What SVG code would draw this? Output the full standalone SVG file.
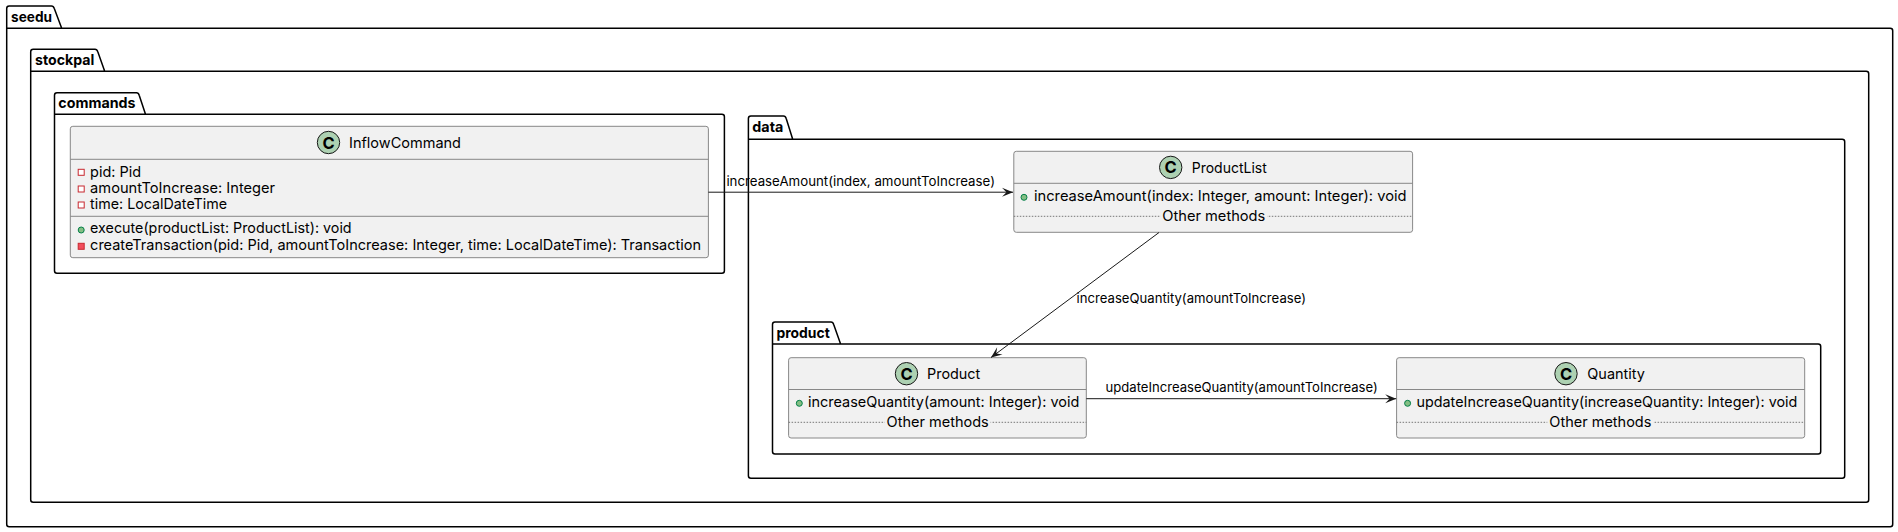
<svg xmlns="http://www.w3.org/2000/svg" width="1898" height="532" viewBox="0 0 1898 532">
<style>
text{font-family:"Inter","Liberation Sans",sans-serif;fill:#000;font-size:14.5px}
.pkgt{font-weight:700;font-size:14.5px}
.lbl{font-size:13px}
.pkg{fill:none;stroke:#000;stroke-width:1.5}
.box{fill:#F1F1F1;stroke:#888;stroke-width:1}
.sep{stroke:#888;stroke-width:1}
.dot{stroke:#777;stroke-width:1;stroke-dasharray:1.5 1.5}
.spot{fill:#ADD1B2;stroke:#181818;stroke-width:1}
.c{font-weight:700;font-size:16.5px;text-anchor:middle}
.pub{fill:#84BE84;stroke:#038048}
.pri{fill:#fff;stroke:#C82930}
.prim{fill:#F24D5C;stroke:#C82930}
.bg{fill:#F1F1F1;stroke:none}
.conn{fill:none;stroke:#181818;stroke-width:1}
</style>
<defs>
<marker id="arrow" markerUnits="userSpaceOnUse" markerWidth="12" markerHeight="12" refX="11" refY="6" orient="auto" overflow="visible">
<path d="M11 6L0 1.5L4.5 6L0 10.5Z" fill="#181818"/>
</marker>
</defs>
<g id="pkg-seedu">
<path class="pkg" d="M6.7 28.3V8.5Q6.7 6 9.2 6H51.5Q53.5 6 54.3 8.5L61.7 28.3H1890.2Q1892.7 28.3 1892.7 30.8V524.2Q1892.7 526.7 1890.2 526.7H9.2Q6.7 526.7 6.7 524.2V28.3H61.7"/>
<text class="pkgt" x="11" y="22" textLength="41" lengthAdjust="spacingAndGlyphs">seedu</text>
</g>
<g id="pkg-stockpal">
<path class="pkg" d="M30.7 71.3V51.8Q30.7 49.3 33.2 49.3H95Q97 49.3 97.8 51.8L104.7 71.3H1866.2Q1868.7 71.3 1868.7 73.8V499.8Q1868.7 502.3 1866.2 502.3H33.2Q30.7 502.3 30.7 499.8V71.3H104.7"/>
<text class="pkgt" x="35" y="65.3" textLength="59.3" lengthAdjust="spacingAndGlyphs">stockpal</text>
</g>
<g id="pkg-commands">
<path class="pkg" d="M54.5 114.3V95.2Q54.5 92.7 57 92.7H136.5Q138.5 92.7 139.2 95.2L145.5 114.3H721.9Q724.4 114.3 724.4 116.8V270.8Q724.4 273.3 721.9 273.3H57Q54.5 273.3 54.5 270.8V114.3H145.5"/>
<text class="pkgt" x="58.3" y="108.3" textLength="77.2" lengthAdjust="spacingAndGlyphs">commands</text>
</g>
<g id="pkg-data">
<path class="pkg" d="M748.4 139.2V118.5Q748.4 116 750.9 116H783.5Q785.5 116 786.2 118.5L792.7 139.2H1842.2Q1844.7 139.2 1844.7 141.7V475.8Q1844.7 478.3 1842.2 478.3H750.9Q748.4 478.3 748.4 475.8V139.2H792.7"/>
<text class="pkgt" x="752.3" y="132" textLength="31" lengthAdjust="spacingAndGlyphs">data</text>
</g>
<g id="pkg-product">
<path class="pkg" d="M772.5 344V324.5Q772.5 322 775 322H831Q833 322 833.7 324.5L840.6 344H1818.2Q1820.7 344 1820.7 346.5V451.5Q1820.7 454 1818.2 454H775Q772.5 454 772.5 451.5V344H840.6"/>
<text class="pkgt" x="776.5" y="338.3" textLength="53.3" lengthAdjust="spacingAndGlyphs">product</text>
</g>
<g id="node-InflowCommand">
<rect class="box" x="70.3" y="126.3" width="638.1" height="131.4" rx="2.5"/>
<line class="sep" x1="70.3" y1="159.3" x2="708.4" y2="159.3"/>
<line class="sep" x1="70.3" y1="216.3" x2="708.4" y2="216.3"/>
<circle class="spot" cx="328.5" cy="142.5" r="11.2"/>
<text class="c" x="328.5" y="148.5">C</text>
<text x="349" y="148" textLength="112" lengthAdjust="spacingAndGlyphs">InflowCommand</text>
<rect class="pri" x="78.2" y="169.3" width="6" height="6"/>
<text x="90.1" y="176.7" textLength="51" lengthAdjust="spacingAndGlyphs">pid: Pid</text>
<rect class="pri" x="78.2" y="186" width="6" height="6"/>
<text x="90.1" y="192.7" textLength="185" lengthAdjust="spacingAndGlyphs">amountToIncrease: Integer</text>
<rect class="pri" x="78.2" y="202" width="6" height="6"/>
<text x="90.1" y="209.3" textLength="137" lengthAdjust="spacingAndGlyphs">time: LocalDateTime</text>
<circle class="pub" cx="81.2" cy="230" r="3"/>
<text x="90.1" y="233.3" textLength="261.5" lengthAdjust="spacingAndGlyphs">execute(productList: ProductList): void</text>
<rect class="prim" x="78.2" y="243.3" width="6" height="6"/>
<text x="90.1" y="250" textLength="611" lengthAdjust="spacingAndGlyphs">createTransaction(pid: Pid, amountToIncrease: Integer, time: LocalDateTime): Transaction</text>
</g>
<g id="node-ProductList">
<rect class="box" x="1013.8" y="151.3" width="398.8" height="81" rx="2.5"/>
<line class="sep" x1="1013.8" y1="183.3" x2="1412.6" y2="183.3"/>
<circle class="spot" cx="1170.7" cy="167.4" r="11.2"/>
<text class="c" x="1170.7" y="173.4">C</text>
<text x="1191.7" y="172.7" textLength="75.1" lengthAdjust="spacingAndGlyphs">ProductList</text>
<circle class="pub" cx="1024" cy="197.3" r="3"/>
<text x="1034" y="201" textLength="372.5" lengthAdjust="spacingAndGlyphs">increaseAmount(index: Integer, amount: Integer): void</text>
<line class="dot" x1="1013.8" y1="216.3" x2="1412.6" y2="216.3"/>
<rect class="bg" x="1160.3" y="208" width="107" height="16"/>
<text x="1162.3" y="221" textLength="103" lengthAdjust="spacingAndGlyphs">Other methods</text>
</g>
<g id="node-Product">
<rect class="box" x="788.6" y="357.7" width="297.7" height="80.3" rx="2.5"/>
<line class="sep" x1="788.6" y1="389.5" x2="1086.3" y2="389.5"/>
<circle class="spot" cx="906.5" cy="373.7" r="11.2"/>
<text class="c" x="906.5" y="379.7">C</text>
<text x="927" y="379" textLength="53.3" lengthAdjust="spacingAndGlyphs">Product</text>
<circle class="pub" cx="799.3" cy="403.3" r="3"/>
<text x="808" y="407" textLength="271.4" lengthAdjust="spacingAndGlyphs">increaseQuantity(amount: Integer): void</text>
<line class="dot" x1="788.6" y1="422.3" x2="1086.3" y2="422.3"/>
<rect class="bg" x="884.6" y="414" width="106" height="16"/>
<text x="886.6" y="426.7" textLength="102.2" lengthAdjust="spacingAndGlyphs">Other methods</text>
</g>
<g id="node-Quantity">
<rect class="box" x="1396.6" y="357.7" width="408.1" height="80.3" rx="2.5"/>
<line class="sep" x1="1396.6" y1="389.5" x2="1804.7" y2="389.5"/>
<circle class="spot" cx="1566" cy="373.7" r="11.2"/>
<text class="c" x="1566" y="379.7">C</text>
<text x="1587.3" y="379" textLength="57.7" lengthAdjust="spacingAndGlyphs">Quantity</text>
<circle class="pub" cx="1407.6" cy="403.3" r="3"/>
<text x="1416.5" y="407" textLength="380.8" lengthAdjust="spacingAndGlyphs">updateIncreaseQuantity(increaseQuantity: Integer): void</text>
<line class="dot" x1="1396.6" y1="422.3" x2="1804.7" y2="422.3"/>
<rect class="bg" x="1547.3" y="414" width="106" height="16"/>
<text x="1549.3" y="426.7" textLength="102.1" lengthAdjust="spacingAndGlyphs">Other methods</text>
</g>
<g id="connectors">
<path class="conn" d="M708.4 192.2H1013" marker-end="url(#arrow)"/>
<text class="lbl" x="726.4" y="186" textLength="268.6" lengthAdjust="spacingAndGlyphs">increaseAmount(index, amountToIncrease)</text>
<path class="conn" d="M1159 232.5L991 357.5" marker-end="url(#arrow)"/>
<text class="lbl" x="1076.6" y="302.7" textLength="229.4" lengthAdjust="spacingAndGlyphs">increaseQuantity(amountToIncrease)</text>
<path class="conn" d="M1086.3 398.7H1396.2" marker-end="url(#arrow)"/>
<text class="lbl" x="1105.5" y="391.7" textLength="272.2" lengthAdjust="spacingAndGlyphs">updateIncreaseQuantity(amountToIncrease)</text>
</g>
</svg>
